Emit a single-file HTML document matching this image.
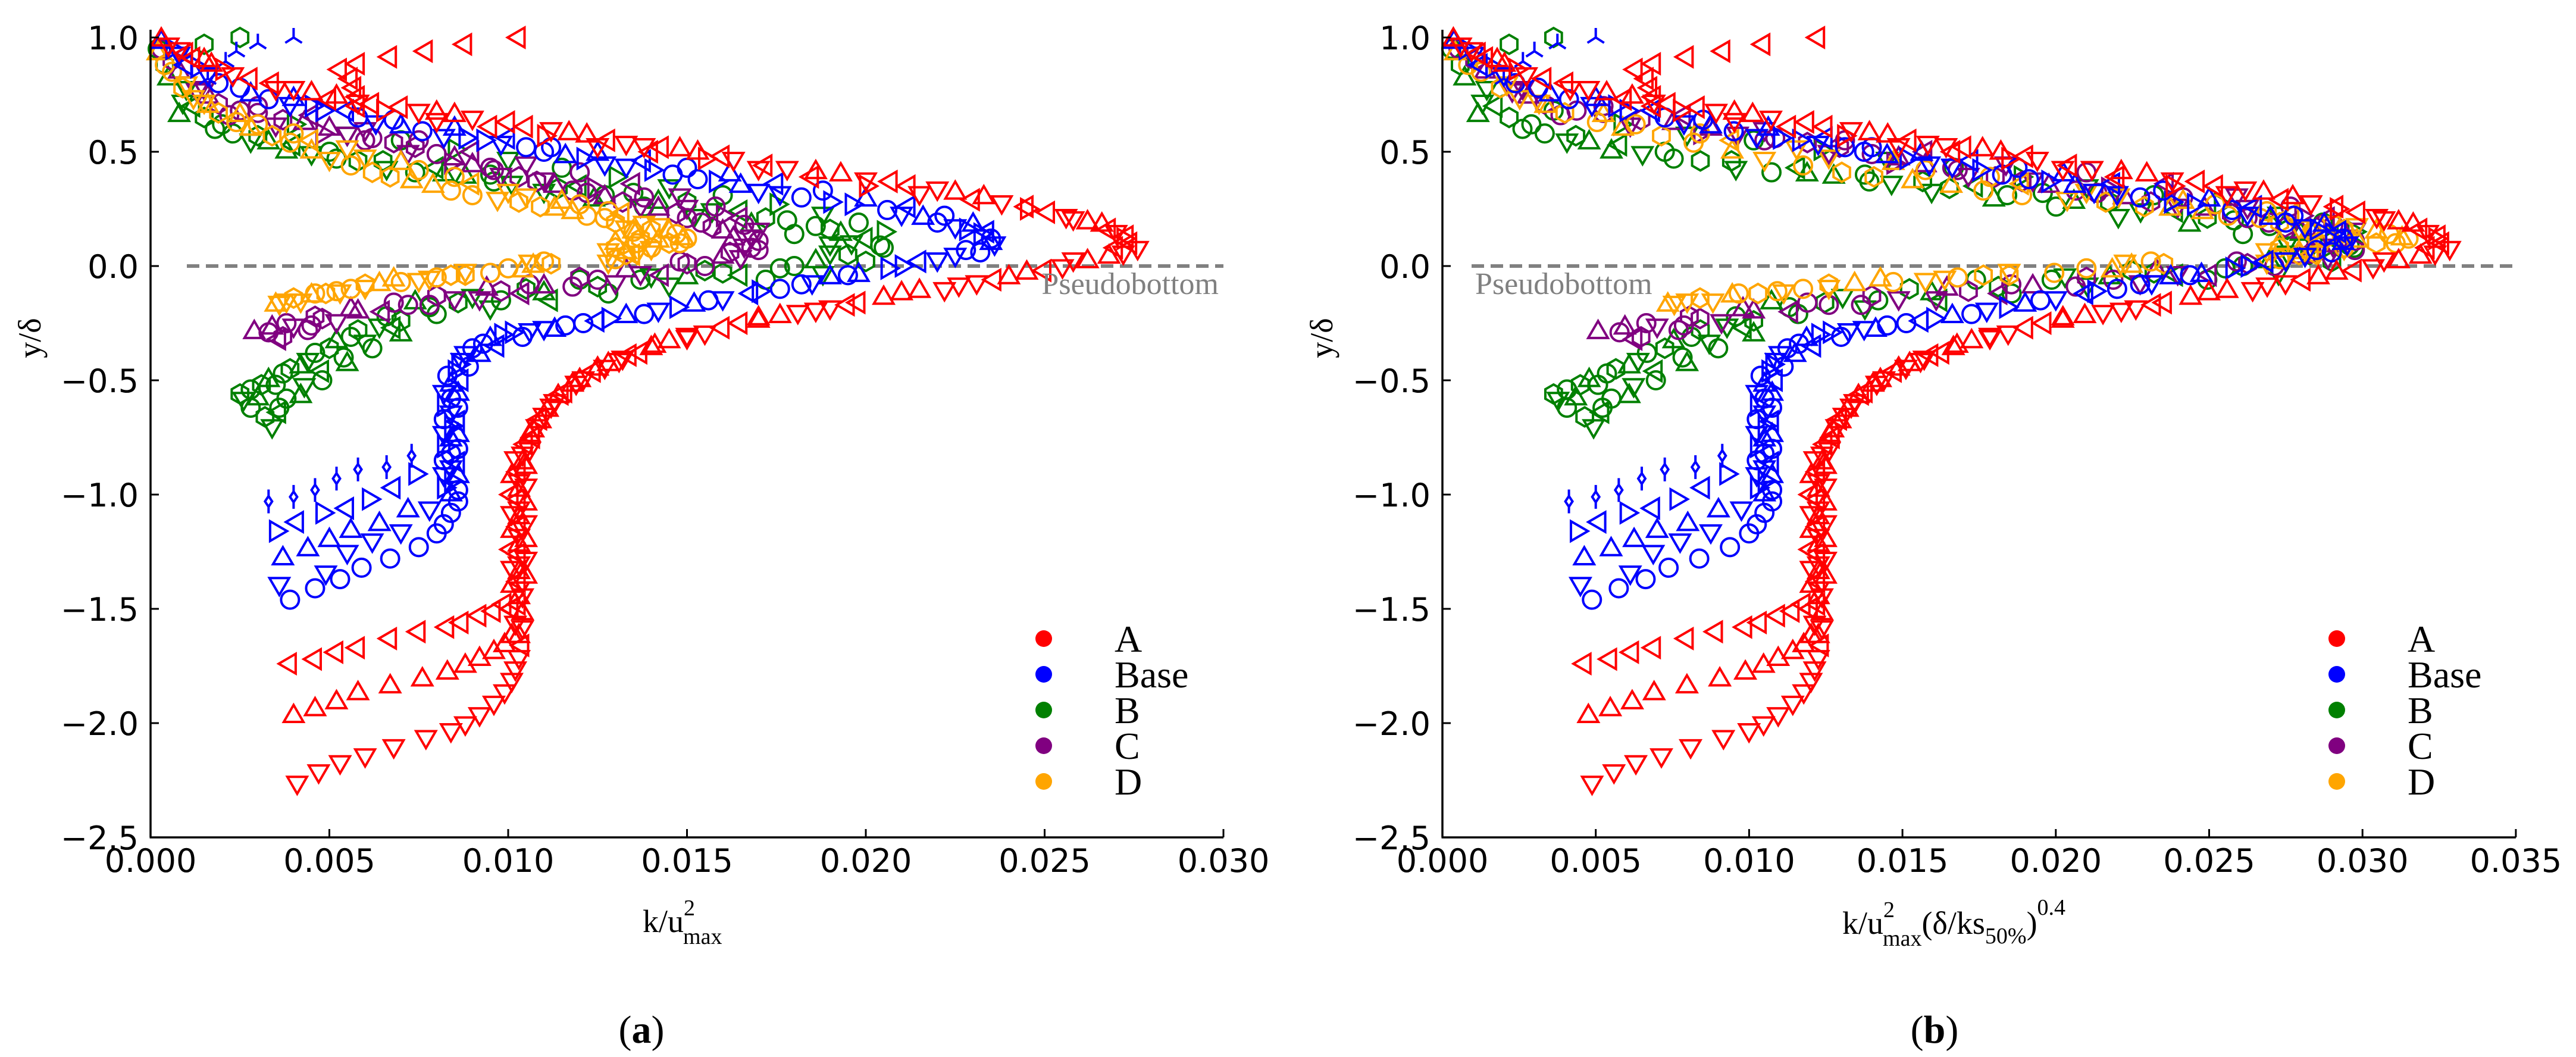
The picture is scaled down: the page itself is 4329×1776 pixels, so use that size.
<!DOCTYPE html>
<html>
<head>
<meta charset="utf-8">
<style>
html,body{margin:0;padding:0;background:#fff;}
svg{display:block;}
.tick{font-family:"DejaVu Sans","Liberation Sans",sans-serif;font-size:54px;fill:#000;}
.ser{font-family:"Liberation Serif","DejaVu Serif",serif;fill:#000;}
</style>
</head>
<body>
<svg id="fig" width="4329" height="1776" viewBox="0 0 4329 1776" xmlns="http://www.w3.org/2000/svg">
  <g id="panelA"></g>
  <g id="panelB"></g>
</svg>
<script>
// ---------- data (left panel: k/u_max^2 , y/delta) ----------
const groups = ["A","Base","B","C","D"];
const groupColors = ["#ff0000","#0000ff","#008000","#800080","#ffa500"];
// multiplier (delta/ks50%)^0.4 per group used for panel b
const deltaKsFactor = [1.19,1.25,1.45,1.75,2.1];

const A_up1 = [[0.0003,0.99],[0.0008,0.95],[0.0012,0.91],[0.0017,0.88],[0.0023,0.84],[0.0034,0.80],[0.0045,0.755],[0.0058,0.72],[0.0070,0.695],[0.0080,0.67],[0.0090,0.65],[0.0105,0.61],[0.0117,0.58],[0.0133,0.54],[0.0143,0.52],[0.0153,0.495],[0.0163,0.47],[0.0172,0.44],[0.0186,0.41],[0.0200,0.38],[0.0212,0.35],[0.0225,0.32],[0.0238,0.28],[0.0251,0.235],[0.0262,0.19],[0.0270,0.15],[0.0274,0.10]];
const A_up2 = [[0.0010,0.93],[0.0020,0.86],[0.0035,0.78],[0.0050,0.73],[0.0065,0.68],[0.0080,0.64],[0.0095,0.61],[0.0110,0.57],[0.0125,0.53],[0.0140,0.50],[0.0155,0.47],[0.0170,0.43],[0.0185,0.39],[0.0200,0.35],[0.0215,0.32],[0.0230,0.29],[0.0245,0.25],[0.0258,0.21],[0.0268,0.16],[0.0272,0.12]];
const A_up3 = [[0.0005,0.97],[0.0015,0.90],[0.0028,0.82],[0.0040,0.78],[0.0052,0.74],[0.0062,0.71],[0.0075,0.68],[0.0085,0.66],[0.0100,0.63],[0.0112,0.60],[0.0122,0.57],[0.0128,0.55],[0.0138,0.53],[0.0148,0.51],[0.0160,0.48],[0.0178,0.43],[0.0193,0.40],[0.0207,0.37],[0.0220,0.34],[0.0233,0.30],[0.0245,0.26],[0.0256,0.22],[0.0266,0.18],[0.0273,0.13],[0.0276,0.08]];
const A_vert = [[0.0058,0.70],[0.0058,0.74],[0.0057,0.78],[0.0056,0.82]];
const A_out = [[0.0053,0.86],[0.0058,0.885],[0.0067,0.915],[0.0077,0.94],[0.0088,0.97],[0.0103,1.0]];
const A_low1 = [[0.0272,0.06],[0.0262,0.02],[0.0250,-0.02],[0.0231,-0.07],[0.0215,-0.11],[0.0198,-0.16],[0.0186,-0.19],[0.0176,-0.22],[0.0165,-0.25],[0.0155,-0.29],[0.0145,-0.33],[0.0137,-0.38],[0.0132,-0.40],[0.0128,-0.43],[0.0124,-0.46],[0.0121,-0.49],[0.0118,-0.52],[0.0116,-0.55],[0.0113,-0.59],[0.0111,-0.63],[0.0109,-0.67],[0.0108,-0.70],[0.0106,-0.74],[0.0105,-0.78],[0.0104,-0.82],[0.0104,-0.86],[0.0103,-0.90],[0.0103,-0.94],[0.0103,-0.98],[0.0103,-1.02],[0.0103,-1.06],[0.0103,-1.10],[0.0103,-1.14],[0.0103,-1.18],[0.0103,-1.22],[0.0103,-1.26],[0.0103,-1.30],[0.0103,-1.34],[0.0103,-1.38],[0.0103,-1.41],[0.0103,-1.45],[0.0103,-1.48]];
const A_low2 = [[0.0268,0.04],[0.0255,0.0],[0.0240,-0.05],[0.0222,-0.10],[0.0205,-0.14],[0.0190,-0.18],[0.0170,-0.24],[0.0150,-0.31],[0.0140,-0.36],[0.0131,-0.41],[0.0125,-0.45],[0.0119,-0.51],[0.0114,-0.57],[0.0110,-0.65],[0.0107,-0.72],[0.0106,-0.80],[0.0105,-0.88],[0.0105,-0.96],[0.0105,-1.04],[0.0105,-1.12],[0.0105,-1.20],[0.0105,-1.28],[0.0105,-1.36],[0.0104,-1.44],[0.0104,-1.52],[0.0104,-1.58]];
const A_low3 = [[0.0270,0.08],[0.0258,0.03],[0.0245,-0.03],[0.0236,-0.06],[0.0226,-0.08],[0.0210,-0.12],[0.0195,-0.17],[0.0181,-0.20],[0.0170,-0.23],[0.0160,-0.27],[0.0150,-0.30],[0.0141,-0.35],[0.0134,-0.39],[0.0127,-0.44],[0.0120,-0.50],[0.0115,-0.56],[0.0112,-0.61],[0.0109,-0.68],[0.0107,-0.75],[0.0102,-0.84],[0.0101,-0.92],[0.0101,-1.00],[0.0101,-1.08],[0.0101,-1.16],[0.0101,-1.24],[0.0101,-1.32],[0.0101,-1.40],[0.0101,-1.50],[0.0102,-1.56],[0.0103,-1.62],[0.0104,-1.66]];
const A_brL = [[0.0099,-1.48],[0.0096,-1.51],[0.0092,-1.53],[0.0087,-1.56],[0.0083,-1.58],[0.0075,-1.60],[0.0067,-1.63],[0.0058,-1.67],[0.0052,-1.69],[0.0046,-1.72],[0.0039,-1.74]];
const A_brU = [[0.0101,-1.62],[0.0099,-1.66],[0.0096,-1.69],[0.0092,-1.72],[0.0088,-1.75],[0.0083,-1.78],[0.0076,-1.81],[0.0067,-1.84],[0.0058,-1.87],[0.0052,-1.91],[0.0046,-1.94],[0.0040,-1.97]];
const A_brD = [[0.0103,-1.71],[0.0102,-1.76],[0.0101,-1.81],[0.0099,-1.86],[0.0096,-1.91],[0.0092,-1.96],[0.0088,-2.00],[0.0084,-2.03],[0.0077,-2.06],[0.0068,-2.10],[0.0060,-2.14],[0.0053,-2.17],[0.0047,-2.21],[0.0041,-2.26]];

const Bs_up1 = [[0.0003,0.98],[0.0008,0.93],[0.0013,0.87],[0.0019,0.80],[0.0028,0.75],[0.0039,0.71],[0.0048,0.68],[0.0058,0.65],[0.0070,0.61],[0.0082,0.57],[0.0093,0.55],[0.0105,0.52],[0.0116,0.48],[0.0127,0.45],[0.0140,0.42],[0.0153,0.38],[0.0165,0.35],[0.0176,0.32],[0.0190,0.28],[0.0206,0.245],[0.0216,0.21],[0.0225,0.175],[0.0232,0.14],[0.0235,0.12]];
const Bs_up2 = [[0.0010,0.88],[0.0025,0.78],[0.0040,0.73],[0.0055,0.68],[0.0068,0.64],[0.0085,0.60],[0.0100,0.56],[0.0112,0.52],[0.0125,0.49],[0.0138,0.46],[0.0150,0.43],[0.0162,0.40],[0.0175,0.36],[0.0188,0.33],[0.0200,0.29],[0.0212,0.26],[0.0222,0.22],[0.0230,0.18],[0.0234,0.15]];
const Bs_up3 = [[0.0006,0.95],[0.0016,0.84],[0.0033,0.73],[0.0045,0.70],[0.0063,0.63],[0.0076,0.59],[0.0088,0.56],[0.0098,0.54],[0.0110,0.50],[0.0121,0.47],[0.0133,0.44],[0.0146,0.40],[0.0158,0.37],[0.0170,0.33],[0.0182,0.30],[0.0196,0.27],[0.0210,0.23],[0.0220,0.19],[0.0228,0.16],[0.0236,0.10]];
const Bs_out = [[0.0016,0.82],[0.0021,0.895],[0.0024,0.94],[0.0030,0.975],[0.0040,1.0]];
const Bs_low1 = [[0.0235,0.10],[0.0228,0.07],[0.0220,0.03],[0.0206,-0.01],[0.0190,-0.05],[0.0176,-0.10],[0.0160,-0.14],[0.0147,-0.18],[0.0133,-0.22],[0.0121,-0.25],[0.0110,-0.27],[0.0101,-0.29],[0.0095,-0.32],[0.0090,-0.36],[0.0087,-0.41],[0.0085,-0.46],[0.0084,-0.52],[0.0084,-0.58],[0.0084,-0.64],[0.0084,-0.70],[0.0084,-0.76],[0.0084,-0.82],[0.0084,-0.88],[0.0084,-0.94],[0.0084,-1.0]];
const Bs_low2 = [[0.0232,0.06],[0.0215,0.02],[0.0198,-0.04],[0.0182,-0.08],[0.0168,-0.12],[0.0152,-0.17],[0.0138,-0.21],[0.0125,-0.24],[0.0113,-0.28],[0.0104,-0.31],[0.0097,-0.35],[0.0092,-0.39],[0.0089,-0.44],[0.0087,-0.50],[0.0086,-0.56],[0.0086,-0.62],[0.0086,-0.68],[0.0086,-0.74],[0.0086,-0.80],[0.0086,-0.86],[0.0086,-0.92],[0.0086,-0.98]];
const Bs_low3 = [[0.0225,0.05],[0.0210,0.0],[0.0195,-0.04],[0.0185,-0.07],[0.0170,-0.11],[0.0156,-0.15],[0.0142,-0.19],[0.0128,-0.23],[0.0116,-0.26],[0.0106,-0.28],[0.0098,-0.30],[0.0093,-0.34],[0.0088,-0.38],[0.0086,-0.43],[0.0083,-0.48],[0.0082,-0.55],[0.0082,-0.61],[0.0082,-0.67],[0.0082,-0.73],[0.0082,-0.79],[0.0082,-0.85],[0.0082,-0.91],[0.0082,-0.97]];
const Bs_brO = [[0.0086,-1.03],[0.0084,-1.08],[0.0082,-1.13],[0.0080,-1.17],[0.0075,-1.23],[0.0067,-1.28],[0.0059,-1.32],[0.0053,-1.37],[0.0046,-1.41],[0.0039,-1.46]];
const Bs_brD = [[0.0078,-1.06],[0.0070,-1.16],[0.0062,-1.20],[0.0055,-1.25],[0.0049,-1.34],[0.0036,-1.39]];
const Bs_brU = [[0.0072,-1.07],[0.0064,-1.13],[0.0056,-1.16],[0.0050,-1.20],[0.0044,-1.24],[0.0037,-1.28]];
const Bs_brT = [[0.0074,-0.91],[0.0068,-0.97],[0.0061,-1.02],[0.0055,-1.06],[0.0048,-1.08],[0.0041,-1.12],[0.0035,-1.16]];
const Bs_brDm = [[0.0073,-0.83],[0.0066,-0.88],[0.0058,-0.89],[0.0052,-0.93],[0.0046,-0.98],[0.0040,-1.01],[0.0033,-1.03]];

const G_up1 = [[0.0002,0.95],[0.0005,0.82],[0.0009,0.72],[0.0015,0.65],[0.0023,0.58],[0.0033,0.54],[0.0045,0.495],[0.0058,0.46],[0.0074,0.41],[0.0088,0.39],[0.0101,0.365],[0.0114,0.34],[0.0127,0.31],[0.0142,0.28],[0.0157,0.245],[0.0172,0.21],[0.0186,0.175],[0.0193,0.14],[0.0196,0.105]];
const G_up2 = [[0.0010,0.78],[0.0025,0.68],[0.0040,0.62],[0.0055,0.58],[0.0070,0.55],[0.0085,0.51],[0.0100,0.47],[0.0115,0.43],[0.0130,0.39],[0.0145,0.35],[0.0160,0.31],[0.0175,0.27],[0.0188,0.23],[0.0198,0.19],[0.0205,0.15]];
const G_up3 = [[0.0004,0.88],[0.0012,0.70],[0.0020,0.62],[0.0030,0.57],[0.0040,0.53],[0.0050,0.50],[0.0065,0.46],[0.0080,0.43],[0.0095,0.40],[0.0108,0.37],[0.0120,0.35],[0.0135,0.32],[0.0150,0.28],[0.0165,0.24],[0.0178,0.20],[0.0190,0.16],[0.0200,0.12],[0.0205,0.08]];
const G_up4 = [[0.0008,0.66],[0.0018,0.60],[0.0028,0.55],[0.0038,0.50],[0.0052,0.47],[0.0066,0.43],[0.0082,0.40],[0.0096,0.37],[0.0110,0.33],[0.0124,0.29],[0.0138,0.26],[0.0152,0.22],[0.0168,0.18],[0.0180,0.14],[0.0190,0.10]];
const G_out = [[0.0015,0.97],[0.0025,1.0]];
const G_low1 = [[0.0204,0.09],[0.0195,0.05],[0.0186,0.02],[0.0176,-0.01],[0.0160,-0.03],[0.0150,-0.05],[0.0137,-0.06],[0.0125,-0.09],[0.0110,-0.12],[0.0098,-0.15],[0.0086,-0.16],[0.0074,-0.16],[0.0066,-0.22],[0.0058,-0.28],[0.0052,-0.33],[0.0046,-0.38],[0.0039,-0.45],[0.0033,-0.50],[0.0028,-0.54],[0.0025,-0.56]];
const G_low2 = [[0.0190,0.06],[0.0180,0.0],[0.0165,-0.04],[0.0145,-0.08],[0.0128,-0.12],[0.0112,-0.15],[0.0095,-0.18],[0.0080,-0.21],[0.0068,-0.27],[0.0060,-0.33],[0.0054,-0.40],[0.0048,-0.46],[0.0043,-0.52],[0.0038,-0.58],[0.0036,-0.64],[0.0034,-0.70]];
const G_low3 = [[0.0070,-0.30],[0.0062,-0.36],[0.0055,-0.43],[0.0048,-0.50],[0.0042,-0.57],[0.0036,-0.62],[0.0030,-0.58],[0.0035,-0.52],[0.0042,-0.44]];
const G_low4 = [[0.0200,0.02],[0.0188,-0.03],[0.0172,-0.06],[0.0155,-0.02],[0.0140,-0.04],[0.0120,-0.06],[0.0105,-0.10],[0.0090,-0.13],[0.0078,-0.18],[0.0070,-0.24],[0.0064,-0.26],[0.0056,-0.31],[0.0050,-0.36],[0.0044,-0.41],[0.0037,-0.47],[0.0031,-0.52],[0.0026,-0.58],[0.0028,-0.62],[0.0032,-0.66]];

const P_up1 = [[0.0003,0.95],[0.0008,0.85],[0.0013,0.77],[0.0019,0.71],[0.0030,0.67],[0.0043,0.625],[0.0055,0.58],[0.0068,0.54],[0.0080,0.49],[0.0090,0.44],[0.0098,0.40],[0.0108,0.37],[0.0118,0.33],[0.0127,0.30],[0.0137,0.265],[0.0147,0.23],[0.0154,0.19],[0.0160,0.15],[0.0166,0.09]];
const P_up2 = [[0.0015,0.78],[0.0030,0.70],[0.0045,0.66],[0.0060,0.60],[0.0075,0.55],[0.0090,0.50],[0.0105,0.45],[0.0120,0.41],[0.0135,0.36],[0.0148,0.31],[0.0158,0.26],[0.0165,0.21],[0.0170,0.16],[0.0170,0.11]];
const P_up3 = [[0.0006,0.90],[0.0016,0.74],[0.0025,0.68],[0.0037,0.64],[0.0050,0.60],[0.0062,0.56],[0.0074,0.52],[0.0085,0.47],[0.0095,0.43],[0.0103,0.39],[0.0113,0.35],[0.0122,0.32],[0.0132,0.28],[0.0142,0.25],[0.0150,0.21],[0.0157,0.17],[0.0163,0.12],[0.0168,0.08]];
const P_up4 = [[0.0022,0.66],[0.0035,0.62],[0.0048,0.58],[0.0060,0.55],[0.0072,0.50],[0.0084,0.45],[0.0096,0.42],[0.0110,0.38],[0.0124,0.34],[0.0138,0.30],[0.0150,0.26],[0.0160,0.22],[0.0166,0.18],[0.0168,0.13]];
const P_low1 = [[0.0170,0.07],[0.0160,0.04],[0.0150,0.01],[0.0137,-0.03],[0.0125,-0.06],[0.0110,-0.09],[0.0098,-0.11],[0.0085,-0.14],[0.0072,-0.17],[0.0058,-0.20],[0.0048,-0.23],[0.0040,-0.26],[0.0033,-0.29],[0.0029,-0.29]];
const P_low2 = [[0.0165,0.04],[0.0155,0.0],[0.0143,-0.04],[0.0130,-0.07],[0.0118,-0.09],[0.0104,-0.12],[0.0092,-0.14],[0.0078,-0.17],[0.0065,-0.20],[0.0052,-0.24],[0.0044,-0.28],[0.0036,-0.32]];
const P_low3 = [[0.0162,0.06],[0.0148,0.02],[0.0133,-0.02],[0.0120,-0.05],[0.0106,-0.08],[0.0094,-0.10],[0.0080,-0.13],[0.0068,-0.16],[0.0056,-0.19],[0.0046,-0.22],[0.0038,-0.25],[0.0034,-0.27],[0.0037,-0.31],[0.0045,-0.26]];

const O_up1 = [[0.0002,0.93],[0.0006,0.85],[0.0012,0.74],[0.0019,0.67],[0.0028,0.60],[0.0039,0.54],[0.0050,0.47],[0.0062,0.41],[0.0073,0.37],[0.0084,0.33],[0.0097,0.295],[0.0109,0.26],[0.0118,0.235],[0.0127,0.21],[0.0133,0.17],[0.0137,0.12],[0.0133,0.06]];
const O_up2 = [[0.0010,0.80],[0.0025,0.66],[0.0040,0.58],[0.0055,0.52],[0.0070,0.45],[0.0085,0.39],[0.0100,0.33],[0.0115,0.28],[0.0128,0.24],[0.0138,0.19],[0.0145,0.15],[0.0148,0.10],[0.0140,0.08],[0.0130,0.10],[0.0135,0.15]];
const O_up3 = [[0.0004,0.88],[0.0009,0.78],[0.0016,0.70],[0.0024,0.63],[0.0034,0.57],[0.0045,0.50],[0.0056,0.44],[0.0067,0.39],[0.0079,0.35],[0.0090,0.31],[0.0103,0.28],[0.0113,0.25],[0.0122,0.22],[0.0130,0.19],[0.0135,0.15],[0.0136,0.10],[0.0130,0.08],[0.0142,0.11],[0.0147,0.14],[0.0140,0.16]];
const O_up4 = [[0.0015,0.72],[0.0030,0.62],[0.0045,0.55],[0.0060,0.48],[0.0075,0.42],[0.0090,0.36],[0.0105,0.31],[0.0120,0.27],[0.0132,0.23],[0.0142,0.18],[0.0150,0.12],[0.0135,0.05],[0.0128,0.07]];
const O_low1 = [[0.0149,0.12],[0.0140,0.08],[0.0133,0.05],[0.0128,0.02],[0.0107,0.0],[0.0100,-0.01],[0.0084,-0.04],[0.0075,-0.06],[0.0064,-0.08],[0.0056,-0.10],[0.0049,-0.12],[0.0042,-0.15],[0.0035,-0.17]];
const O_low2 = [[0.0110,0.02],[0.0104,-0.02],[0.0088,-0.02],[0.0080,-0.05],[0.0068,-0.06],[0.0060,-0.09],[0.0052,-0.11],[0.0045,-0.13],[0.0038,-0.15]];
const O_low3 = [[0.0145,0.10],[0.0136,0.06],[0.0130,0.03],[0.0112,0.01],[0.0106,0.02],[0.0095,-0.03],[0.0088,-0.04],[0.0078,-0.05],[0.0070,-0.07],[0.0060,-0.08],[0.0053,-0.11],[0.0046,-0.12],[0.0040,-0.14],[0.0036,-0.16]];

// series: [group index, data, marker cycle]
const series = [
  [2,G_up1,["o","tu","td","h"]],[2,G_up2,["td","o","tr"]],[2,G_up3,["h","tl","o"]],[2,G_up4,["tu","o","td"]],[2,G_out,["h"]],
  [2,G_low1,["o","h","tu"]],[2,G_low2,["td","o","tl"]],[2,G_low3,["tu","o"]],[2,G_low4,["h","td","o"]],
  [3,P_up1,["o","tu","td","h"]],[3,P_up2,["td","o","tl"]],[3,P_up3,["h","tu","o"]],[3,P_up4,["o","td","tr"]],
  [3,P_low1,["o","tu","h","td"]],[3,P_low2,["td","o","tl"]],[3,P_low3,["h","o","tu"]],
  [4,O_up1,["tu","o","td","h"]],[4,O_up2,["td","tu","o"]],[4,O_up3,["o","h","tu"]],[4,O_up4,["td","o","tl"]],
  [4,O_low1,["tu","o","h","td"]],[4,O_low2,["o","tu","td"]],[4,O_low3,["h","td","o"]],
  [1,Bs_up1,["tu","td","tr","o"]],[1,Bs_up2,["tl","o","tu"]],[1,Bs_up3,["tr","td","o"]],[1,Bs_out,["y"]],
  [1,Bs_low1,["tu","o","td","tr"]],[1,Bs_low2,["o","tl","tu"]],[1,Bs_low3,["td","tr","o"]],[1,Bs_brO,["o"]],[1,Bs_brD,["td"]],[1,Bs_brU,["tu"]],[1,Bs_brT,["tr","tl"]],[1,Bs_brDm,["dm"]],
  [0,A_up1,["tu","td","tl"]],[0,A_up2,["tl","tr","td"]],[0,A_up3,["td","tu","tl"]],[0,A_vert,["tl"]],[0,A_out,["tl"]],
  [0,A_low1,["td","tu","tl"]],[0,A_low2,["tu","td"]],[0,A_low3,["tl","td","tu"]],[0,A_brL,["tl"]],[0,A_brU,["tu"]],[0,A_brD,["td"]]
];
const yTicks = [1.0,0.5,0.0,-0.5,-1.0,-1.5,-2.0,-2.5];
const yTickLabels = ["1.0","0.5","0.0","\u22120.5","\u22121.0","\u22121.5","\u22122.0","\u22122.5"];
const xTicksA = [0,0.005,0.010,0.015,0.020,0.025,0.030];
const xTickLabelsA = ["0.000","0.005","0.010","0.015","0.020","0.025","0.030"];
const xTicksB = [0,0.005,0.010,0.015,0.020,0.025,0.030,0.035];
const xTickLabelsB = ["0.000","0.005","0.010","0.015","0.020","0.025","0.030","0.035"];

// ---------- drawing ----------
const NS = "http://www.w3.org/2000/svg";
function el(tag, attrs, parent){const e=document.createElementNS(NS,tag);for(const k in attrs)e.setAttribute(k,attrs[k]);parent.appendChild(e);return e;}
const yScale = v => 447 - v*384;
const panels = [
  {g:document.getElementById("panelA"), x0:253, ppu:60100, xmax:0.030, ticks:xTicksA, labels:xTickLabelsA, factor:false},
  {g:document.getElementById("panelB"), x0:2424, ppu:51540, xmax:0.035, ticks:xTicksB, labels:xTickLabelsB, factor:true}
];
function marker(g, shape, cx, cy, color){
  const s=19, st={fill:"none",stroke:color,"stroke-width":4};
  let e;
  if(shape==="o"){ e=el("circle",Object.assign({cx:cx,cy:cy,r:15},st),g); }
  else if(shape==="h"){ let p=[];for(let i=0;i<6;i++){const a=Math.PI/6+i*Math.PI/3;p.push((cx+16*Math.cos(a)).toFixed(1)+","+(cy+16*Math.sin(a)).toFixed(1));} e=el("polygon",Object.assign({points:p.join(" ")},st),g); }
  else if(shape==="y"){ e=el("path",Object.assign({d:`M${cx},${cy}L${cx},${cy-16}M${cx},${cy}L${cx-14},${cy+9}M${cx},${cy}L${cx+14},${cy+9}`},st),g); }
  else if(shape==="dm"){ e=el("path",Object.assign({d:`M${cx},${cy-9}L${cx+6},${cy}L${cx},${cy+9}L${cx-6},${cy}Z M${cx},${cy-20}L${cx},${cy-9} M${cx},${cy+9}L${cx},${cy+20}`},st),g); }
  else {
    let pts;
    if(shape==="tu") pts=[[0,-s],[s*0.87,s*0.5],[-s*0.87,s*0.5]];
    else if(shape==="td") pts=[[0,s],[s*0.87,-s*0.5],[-s*0.87,-s*0.5]];
    else if(shape==="tl") pts=[[-s,0],[s*0.5,-s*0.87],[s*0.5,s*0.87]];
    else pts=[[s,0],[-s*0.5,-s*0.87],[-s*0.5,s*0.87]];
    e=el("polygon",Object.assign({points:pts.map(p=>(cx+p[0]).toFixed(1)+","+(cy+p[1]).toFixed(1)).join(" ")},st),g);
  }
  return e;
}
panels.forEach((P,pi)=>{
  const xS = v => P.x0 + v*P.ppu;
  const g = P.g;
  const xEnd = xS(P.xmax);
  const dl = el("line",{x1:pi===0?314:2473,y1:yScale(0),x2:xEnd,y2:yScale(0),stroke:"#808080","stroke-width":6,"stroke-dasharray":"21 11"},g);
  
  
  series.forEach(sr=>{
    const gi=sr[0], data=sr[1], shapes=sr[2];
    const f = P.factor ? deltaKsFactor[gi] : 1;
    data.forEach((d,i)=>{
      const m = marker(g, shapes[i%shapes.length], xS(d[0]*f), yScale(d[1]), groupColors[gi]);
      
      
    });
  });
  const ya = el("line",{x1:P.x0,y1:50,x2:P.x0,y2:1407,stroke:"#000","stroke-width":3.5},g);
  
  
  const xa = el("line",{x1:P.x0-1.5,y1:1407,x2:xEnd,y2:1407,stroke:"#000","stroke-width":3.5},g);
  
  
  yTicks.forEach((v,i)=>{
    const t=el("line",{x1:P.x0,y1:yScale(v),x2:P.x0+14,y2:yScale(v),stroke:"#000","stroke-width":3},g);
    
    
    const tx=el("text",{x:P.x0-20,y:yScale(v)+20,"text-anchor":"end",class:"tick"},g);
    tx.textContent=yTickLabels[i];
    
    
  });
  P.ticks.forEach((v,i)=>{
    const t=el("line",{x1:xS(v),y1:1407,x2:xS(v),y2:1393,stroke:"#000","stroke-width":3},g);
    
    
    const tx=el("text",{x:xS(v),y:1465,"text-anchor":"middle",class:"tick"},g);
    tx.textContent=P.labels[i];
    
    
  });
  const lx = pi===0?1754:3927, tx0 = pi===0?1873:4046;
  groups.forEach((name,i)=>{
    const cy = 1073 + i*60;
    const c=el("circle",{cx:lx,cy:cy,r:14,fill:groupColors[i]},g);
    
    
    const t=el("text",{x:tx0,y:cy+22,class:"ser","font-size":64},g);
    t.textContent=name;
    
    
  });
});
</script>
<svg style="position:absolute;left:0;top:0" width="4329" height="1776">
  <text x="2048" y="494" text-anchor="end" font-family="Liberation Serif, serif" font-size="52" fill="#808080">Pseudobottom</text>
  <text x="2479" y="494" font-family="Liberation Serif, serif" font-size="52" fill="#808080">Pseudobottom</text>
  <text transform="translate(68,568) rotate(-90)" text-anchor="middle" font-family="Liberation Serif, serif" font-size="54">y/δ</text>
  <text transform="translate(2239,568) rotate(-90)" text-anchor="middle" font-family="Liberation Serif, serif" font-size="54">y/δ</text>
  <text x="1080" y="1566" font-family="Liberation Serif, serif" font-size="54">k/u<tspan dy="-28" font-size="38">2</tspan><tspan dx="-20" dy="48" font-size="38">max</tspan></text>
  <text x="3096" y="1569" font-family="Liberation Serif, serif" font-size="54">k/u<tspan dy="-28" font-size="38">2</tspan><tspan dx="-20" dy="48" font-size="38">max</tspan><tspan dy="-20">(δ/ks</tspan><tspan dy="16" font-size="38">50%</tspan><tspan dy="-16">)</tspan><tspan dy="-32" font-size="38">0.4</tspan></text>
  <text x="1078" y="1752" text-anchor="middle" font-family="Liberation Serif, serif" font-size="66">(<tspan font-weight="bold">a</tspan>)</text>
  <text x="3251" y="1752" text-anchor="middle" font-family="Liberation Serif, serif" font-size="66">(<tspan font-weight="bold">b</tspan>)</text>
</svg>
</body>
</html>
